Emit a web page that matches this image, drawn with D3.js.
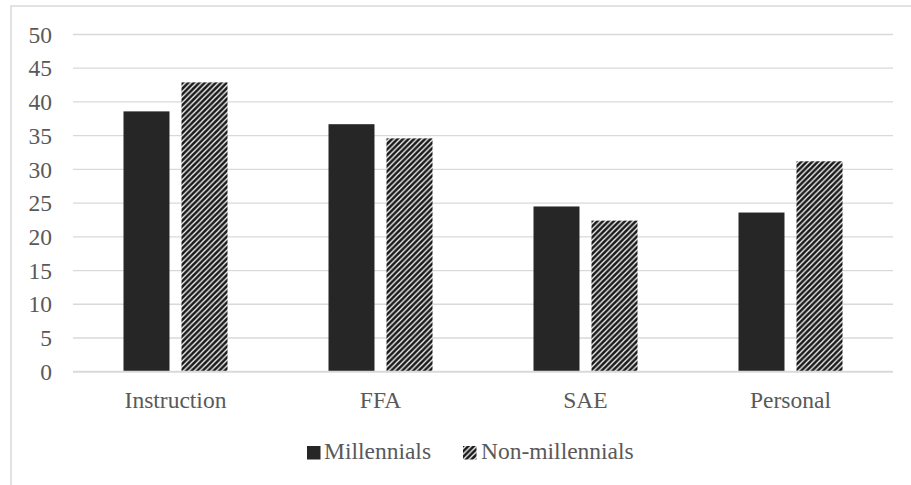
<!DOCTYPE html>
<html>
<head>
<meta charset="utf-8">
<script src="https://cdn.jsdelivr.net/npm/d3@7"></script>
<style>
  body { margin: 0; background: #fff; }
  svg { display: block; }
  svg text { font-family: "Liberation Serif", "Times New Roman", Times, serif; }
</style>
</head>
<body>
<div id="chart"></div>
<script>
// categories and series values
const categories = ["Instruction", "FFA", "SAE", "Personal"];
const seriesNames = ["Millennials", "Non-millennials"];
const millennials = [38.6, 36.7, 24.5, 23.6];
const nonMillennials = [42.9, 34.6, 22.4, 31.2];
const yTicks = [0, 5, 10, 15, 20, 25, 30, 35, 40, 45, 50];

const width = 911, height = 485;
const margin = {top: 34.5, right: 18, bottom: 113.3, left: 73};
const textColor = "#595959";
const gridColor = "#d9d9d9";
const dark = "#262626";
const fontSize = 23.5;

const rows = categories.map((c, i) => ({cat: c, values: [millennials[i], nonMillennials[i]]}));

const svg = d3.select("#chart").append("svg")
    .attr("width", width)
    .attr("height", height);

// hatch pattern for the second series
const defs = svg.append("defs");
const pat = defs.append("pattern")
    .attr("id", "hatch")
    .attr("patternUnits", "userSpaceOnUse")
    .attr("width", 5.5)
    .attr("height", 5.5);
pat.append("rect").attr("width", 5.5).attr("height", 5.5).attr("fill", "#fff");
pat.append("path")
    .attr("d", "M-1,6.5 L6.5,-1 M-2.5,2.5 L2.5,-2.5 M3,8 L8,3")
    .attr("stroke", "#1a1a1a")
    .attr("stroke-width", 2.6);

const fills = [dark, "url(#hatch)"];

// outer frame (runs off the right and bottom edges)
svg.append("rect")
    .attr("x", 11).attr("y", 6)
    .attr("width", 920).attr("height", 500)
    .attr("fill", "none")
    .attr("stroke", gridColor)
    .attr("stroke-width", 1.5);

const x0 = d3.scaleBand()
    .domain(categories)
    .range([margin.left, width - margin.right])
    .padding(0);

const x1 = d3.scaleBand()
    .domain(seriesNames)
    .range([x0.bandwidth() / 2 - 52, x0.bandwidth() / 2 + 52])
    .paddingInner(0.207);

const y = d3.scaleLinear()
    .domain([0, 50])
    .range([height - margin.bottom, margin.top]);

// gridlines
svg.append("g")
    .selectAll("line")
    .data(yTicks.filter(d => d > 0))
    .join("line")
    .attr("x1", margin.left)
    .attr("x2", width - margin.right)
    .attr("y1", d => y(d))
    .attr("y2", d => y(d))
    .attr("stroke", gridColor)
    .attr("stroke-width", 1.3);

// y tick labels
svg.append("g")
    .selectAll("text")
    .data(yTicks)
    .join("text")
    .attr("x", 52)
    .attr("y", d => y(d))
    .attr("dy", "0.35em")
    .attr("text-anchor", "end")
    .attr("fill", textColor)
    .attr("font-size", fontSize)
    .text(d => d);

// bars
svg.append("g")
    .selectAll("g")
    .data(rows)
    .join("g")
    .attr("transform", d => `translate(${x0(d.cat)},0)`)
    .selectAll("rect")
    .data(d => d.values.map((v, i) => ({key: seriesNames[i], value: v, i: i})))
    .join("rect")
    .attr("x", d => x1(d.key))
    .attr("y", d => y(d.value))
    .attr("width", x1.bandwidth())
    .attr("height", d => y(0) - y(d.value))
    .attr("fill", d => fills[d.i]);

// baseline
svg.append("line")
    .attr("x1", margin.left)
    .attr("x2", width - margin.right)
    .attr("y1", y(0))
    .attr("y2", y(0))
    .attr("stroke", gridColor)
    .attr("stroke-width", 2);

// category labels
svg.append("g")
    .selectAll("text")
    .data(categories)
    .join("text")
    .attr("x", d => x0(d) + x0.bandwidth() / 2)
    .attr("y", 408)
    .attr("text-anchor", "middle")
    .attr("fill", textColor)
    .attr("font-size", fontSize)
    .text(d => d);

// legend
const legendX = [307, 463];
const legend = svg.append("g")
    .selectAll("g")
    .data(seriesNames)
    .join("g")
    .attr("transform", (d, i) => `translate(${legendX[i]},446)`);

legend.append("rect")
    .attr("width", 13.5)
    .attr("height", 13.5)
    .attr("fill", (d, i) => fills[i]);

legend.append("text")
    .attr("x", (d, i) => i == 0 ? 17 : 18)
    .attr("y", 12.5)
    .attr("fill", textColor)
    .attr("font-size", fontSize)
    .text(d => d);
</script>
</body>
</html>
